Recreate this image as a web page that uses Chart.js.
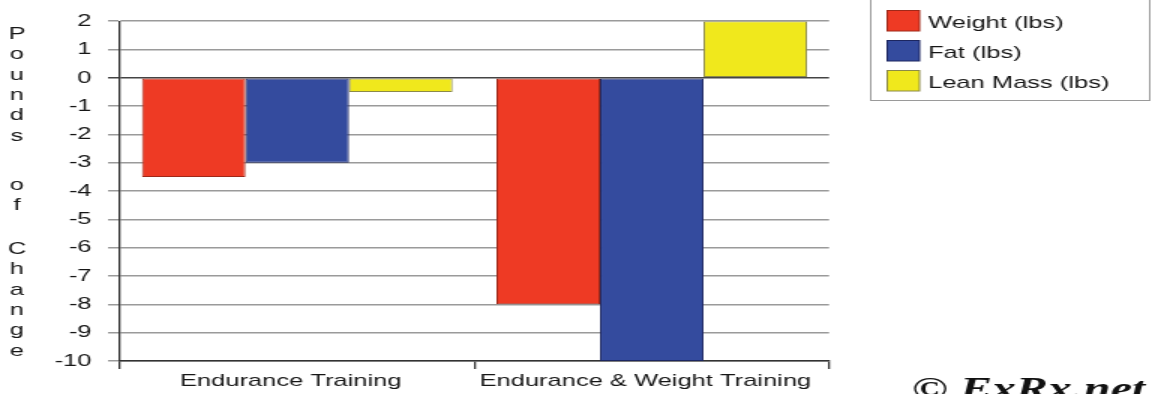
<!DOCTYPE html>
<html>
<head>
<meta charset="utf-8">
<script src="https://cdn.jsdelivr.net/npm/chart.js@4/dist/chart.umd.min.js"></script>
<style>
  html, body { margin: 0; padding: 0; background: #fff; overflow: hidden; }
  #wrap { position: absolute; left: 0; top: 0; width: 777px; height: 394px; transform: scaleX(1.5); transform-origin: 0 0; }
  #c { display: block; }
</style>
</head>
<body>
<div id="wrap"><canvas id="c" width="777" height="394" style="width:777px;height:394px"></canvas></div>
<script>
const categories = ['Endurance Training', 'Endurance & Weight Training'];
const seriesNames = ['Weight (lbs)', 'Fat (lbs)', 'Lean Mass (lbs)'];
const weight = [-3.5, -8];
const fat = [-3, -10];
const leanMass = [-0.5, 2];
const yMin = -10, yMax = 2, yStep = 1;
const yTitleWords = ['Pounds', 'of', 'Change'];
const copyright = '\u00A9 ExRx.net';

const fills = ['#EE3A24', '#344B9E', '#F0E81C'];
const borders = ['#A02818', '#1C2660', '#8C8A48'];
const FONT = '"Liberation Sans", Arial, sans-serif';
const TXT = '#161616';

const extras = {
  id: 'extras',
  afterDraw(chart) {
    const ctx = chart.ctx;
    ctx.save();
    // vertical stacked y-axis title
    ctx.fillStyle = TXT;
    ctx.font = '17px ' + FONT;
    ctx.textAlign = 'center';
    ctx.textBaseline = 'alphabetic';
    const starts = [39, 190, 254];
    yTitleWords.forEach((w, wi) => {
      [...w].forEach((ch, i) => ctx.fillText(ch, 11.3, starts[wi] + i * 20.3));
    });
    // legend box
    ctx.strokeStyle = '#9a9a9a';
    ctx.lineWidth = 1;
    ctx.strokeRect(580.5, -2, 186, 102.5);
    ctx.font = '17px ' + FONT;
    ctx.textAlign = 'left';
    ctx.textBaseline = 'middle';
    seriesNames.forEach((n, i) => {
      const top = 10 + i * 30;
      ctx.fillStyle = fills[i];
      ctx.fillRect(591.5, top, 21.5, 21);
      ctx.strokeStyle = borders[i];
      ctx.strokeRect(591.5, top + 0.5, 21.5, 20.5);
      ctx.fillStyle = TXT;
      ctx.fillText(n, 618.7, top + 13);
    });
    // copyright
    ctx.fillStyle = '#111';
    ctx.font = 'italic bold 32px "Liberation Serif", "Times New Roman", serif';
    ctx.textBaseline = 'alphabetic';
    ctx.fillText(copyright, 608, 399);
    ctx.restore();
  }
};

new Chart(document.getElementById('c'), {
  type: 'bar',
  data: {
    labels: categories,
    datasets: [weight, fat, leanMass].map((d, i) => ({
      label: seriesNames[i],
      data: d,
      backgroundColor: fills[i],
      borderColor: borders[i],
      borderWidth: 1,
      borderSkipped: false,
      categoryPercentage: 0.876,
      barPercentage: 1
    }))
  },
  options: {
    responsive: false,
    animation: false,
    devicePixelRatio: 1,
    layout: { padding: { left: 0, right: 224.3, top: 19, bottom: 0 } },
    plugins: { legend: { display: false }, tooltip: { enabled: false } },
    scales: {
      x: {
        afterFit: s => { s.height = 33; },
        border: { display: true, color: '#333', width: 1.5 },
        grid: {
          drawOnChartArea: false,
          drawTicks: true,
          tickLength: 8,
          lineWidth: 1.3,
          color: c => (c.index === 2 ? 'rgba(0,0,0,0)' : '#333')
        },
        ticks: { color: TXT, font: { family: FONT, size: 17 }, padding: 2, labelOffset: -4.3, maxRotation: 0 }
      },
      y: {
        min: yMin, max: yMax,
        afterFit: s => { s.width = 80; },
        border: { display: true, color: '#333', width: 1.3 },
        grid: {
          drawTicks: true,
          tickLength: 8,
          lineWidth: 1.5,
          color: c => (c.tick && c.tick.value === 0 ? '#444' : '#9a9a9a')
        },
        ticks: { stepSize: yStep, color: TXT, font: { family: FONT, size: 17 }, padding: 11 }
      }
    }
  },
  plugins: [extras]
});
</script>
</body>
</html>
